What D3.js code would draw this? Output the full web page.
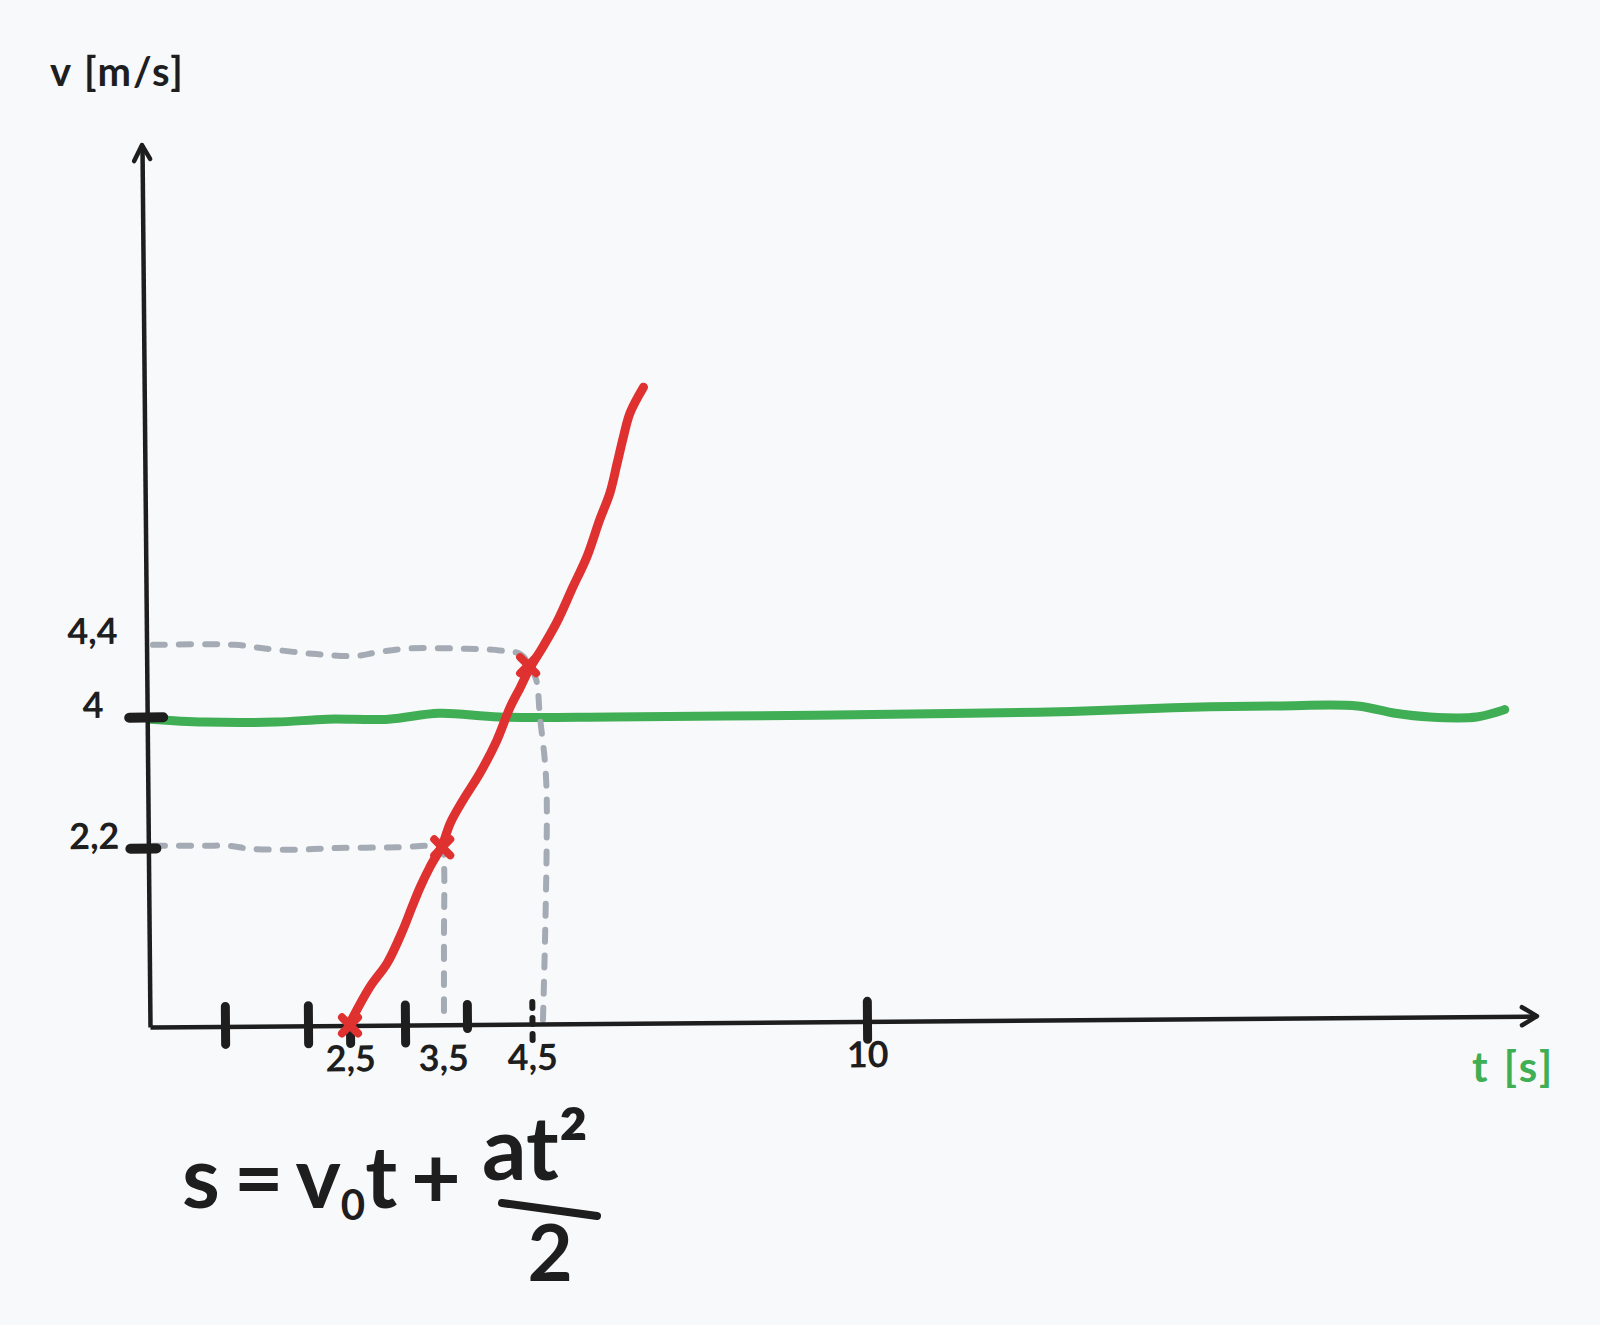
<!DOCTYPE html>
<html lang="en">
<head>
<meta charset="UTF-8">
<title>v(t) sketch</title>
<script src="https://d3js.org/d3.v7.min.js"></script>
<style>
  html, body { margin: 0; background: #f8f9fb; }
  text { font-family: Lato, "Noto Sans", sans-serif; font-weight: 700; fill: #1e1e1e; }
</style>
</head>
<body>
<div id="chart"></div>
<script>
// values: t in s, v in m/s
const greenT = [0, 0.72, 1.61, 2.23, 2.85, 3.45, 4.25, 5.81, 9.16, 11.67, 13.35, 15.02, 16.72, 18.05, 18.67, 19.24, 20.01, 20.47];
const greenV = [3.97, 3.93, 3.93, 3.97, 3.97, 4.02, 4.0, 4.0, 4.01, 4.02, 4.03, 4.05, 4.06, 4.06, 4.02, 4.0, 4.0, 4.04];

const redT = [2.5, 2.68, 2.84, 2.98, 3.09, 3.20, 3.33, 3.49, 3.65, 3.92, 4.10, 4.23, 4.33, 4.41, 4.48, 4.68, 4.91, 5.17, 5.40, 5.61, 5.78, 5.90, 6.00, 6.11, 6.33];
const redV = [0.05, 0.49, 0.79, 1.19, 1.47, 1.72, 1.97, 2.24, 2.54, 2.86, 3.23, 3.68, 4.05, 4.16, 4.26, 4.38, 4.68, 5.14, 5.54, 6.03, 6.39, 6.79, 7.13, 7.45, 7.79];

// crosses marked on the red curve
const crossT = [2.5, 3.49, 4.47];
const crossV = [0.02, 2.21, 4.28];

// dashed guide lines
const g44T = [0.04, 1.12, 1.48, 2.10, 2.56, 2.75, 3.04, 3.83, 4.25, 4.41, 4.48, 4.57, 4.63, 4.71, 4.74, 4.74, 4.71, 4.68];
const g44V = [4.39, 4.39, 4.37, 4.34, 4.33, 4.35, 4.37, 4.37, 4.36, 4.34, 4.28, 4.2, 4.0, 3.41, 2.96, 2.18, 0.95, 0.09];
const g22T = [0.04, 0.72, 1.06, 1.30, 1.86, 2.35, 2.94, 3.32, 3.49, 3.52, 3.52, 3.52];
const g22V = [2.23, 2.23, 2.23, 2.19, 2.18, 2.20, 2.21, 2.23, 2.21, 2.02, 1.07, 0.18];

// ticks
const xTickMarks = [1, 2, 2.5, 3, 4, 10];
const xTickDashed = [4.5];
const xTickLabels = [2.5, 3.5, 4.5, 10];
const yTickMarks = [2.2, 4];
const yTickLabels = [2.2, 4, 4.4];

const width = 1600, height = 1325;
const ink = "#1e1e1e", red = "#e03131", green = "#3fae54", grey = "#a5abb4";

const svg = d3.select("#chart").append("svg")
  .attr("width", width)
  .attr("height", height);

svg.append("rect").attr("width", width).attr("height", height).attr("fill", "#f8f9fb");

// the sketch is not to scale, so the scales are piecewise
const x = d3.scaleLinear()
  .domain([0, 1, 2, 2.5, 3, 3.5, 4, 4.5, 10, 21])
  .range([150, 225, 308, 350, 405, 443, 467, 532, 867, 1537]);
const y = d3.scaleLinear()
  .domain([0, 2.2, 4, 4.4, 11])
  .range([1027, 848, 717, 643, 145]);

const comma = d => String(d).replace(".", ",");
const line = d3.line()
  .x(d => x(d[0]))
  .y(d => y(d[1]))
  .curve(d3.curveCatmullRom.alpha(0.5));

// green line
svg.append("path")
  .datum(d3.zip(greenT, greenV))
  .attr("d", line)
  .attr("fill", "none")
  .attr("stroke", green)
  .attr("stroke-width", 9)
  .attr("stroke-linecap", "round")
  .attr("stroke-linejoin", "round");

// dashed guides
svg.selectAll(".guide")
  .data([d3.zip(g44T, g44V), d3.zip(g22T, g22V)])
  .join("path")
  .attr("class", "guide")
  .attr("d", line)
  .attr("fill", "none")
  .attr("stroke", grey)
  .attr("stroke-width", 6)
  .attr("stroke-dasharray", "12 14")
  .attr("stroke-linecap", "round");

// x axis
const xShift = `rotate(-0.45, ${x(0)}, ${y(0)}) translate(0, ${y(0)})`;
const xAxisG = svg.append("g").attr("transform", xShift);
xAxisG.call(d3.axisBottom(x).tickValues(xTickMarks).tickFormat("").tickSizeOuter(0));
xAxisG.select(".domain").attr("stroke", ink).attr("stroke-width", 4.5);
xAxisG.selectAll(".tick line")
  .attr("stroke", ink)
  .attr("stroke-width", 9)
  .attr("stroke-linecap", "round")
  .attr("y1", d => d === 2.5 ? 0 : -20)
  .attr("y2", d => d === 4 ? 4 : 18);

const xDash = svg.append("g")
  .attr("transform", xShift)
  .call(d3.axisBottom(x).tickValues(xTickDashed).tickFormat("").tickSizeOuter(0));
xDash.select(".domain").remove();
xDash.selectAll(".tick line")
  .attr("stroke", ink)
  .attr("stroke-width", 6)
  .attr("stroke-linecap", "round")
  .attr("stroke-dasharray", "6 10")
  .attr("y1", -22).attr("y2", 18);

const xLab = svg.append("g")
  .attr("transform", xShift)
  .call(d3.axisBottom(x).tickValues(xTickLabels).tickFormat(comma).tickSize(0).tickSizeOuter(0));
xLab.select(".domain").remove();
xLab.selectAll(".tick text")
  .attr("y", 46).attr("dy", 0)
  .attr("font-size", 36)
  .style("font-family", "Lato, sans-serif")
  .style("font-weight", 700)
  .attr("fill", ink);

const xEnd = x.range()[x.range().length - 1];
xAxisG.append("path")
  .attr("d", `M${xEnd - 15},-9 L${xEnd},0 L${xEnd - 15},9`)
  .attr("fill", "none")
  .attr("stroke", ink)
  .attr("stroke-width", 4.5)
  .attr("stroke-linecap", "round")
  .attr("stroke-linejoin", "round");

// y axis
const yShift = `rotate(-0.52, ${x(0)}, ${y(0)}) translate(${x(0)}, 0)`;
const yAxisG = svg.append("g").attr("transform", yShift);
yAxisG.call(d3.axisLeft(y).tickValues(yTickMarks).tickFormat("").tickSizeOuter(0));
yAxisG.select(".domain").attr("stroke", ink).attr("stroke-width", 4.5);
yAxisG.selectAll(".tick line")
  .attr("stroke", ink)
  .attr("stroke-width", 10)
  .attr("stroke-linecap", "round")
  .attr("x1", -18)
  .attr("x2", d => d === 4 ? 16 : 8);
yAxisG.append("path")
  .attr("d", `M-8,${y(11) + 16} L0,${y(11)} L8,${y(11) + 14}`)
  .attr("fill", "none")
  .attr("stroke", ink)
  .attr("stroke-width", 4.5)
  .attr("stroke-linecap", "round")
  .attr("stroke-linejoin", "round");

const yLab = svg.append("g")
  .attr("transform", yShift)
  .call(d3.axisLeft(y).tickValues(yTickLabels).tickFormat(comma).tickSize(0).tickSizeOuter(0));
yLab.select(".domain").remove();
yLab.selectAll(".tick text")
  .attr("x", -54).attr("dy", 0)
  .attr("text-anchor", "middle")
  .attr("font-size", 36)
  .style("font-family", "Lato, sans-serif")
  .style("font-weight", 700)
  .attr("fill", ink);

// red curve
svg.append("path")
  .datum(d3.zip(redT, redV))
  .attr("d", line)
  .attr("fill", "none")
  .attr("stroke", red)
  .attr("stroke-width", 9)
  .attr("stroke-linecap", "round")
  .attr("stroke-linejoin", "round");

svg.selectAll(".cross")
  .data(d3.zip(crossT, crossV))
  .join("path")
  .attr("class", "cross")
  .attr("transform", d => `translate(${x(d[0])},${y(d[1])})`)
  .attr("d", d3.symbol(d3.symbolX, 170))
  .attr("fill", "none")
  .attr("stroke", red)
  .attr("stroke-width", 8)
  .attr("stroke-linecap", "round");

// axis titles
svg.append("text")
  .attr("x", 50).attr("y", 86)
  .attr("font-size", 40)
  .attr("letter-spacing", 2)
  .text("v [m/s]");
svg.append("text")
  .attr("x", 1472).attr("y", 1082)
  .attr("font-size", 42)
  .attr("letter-spacing", 3)
  .style("fill", green)
  .text("t [s]");

// formula
const f = svg.append("text")
  .attr("x", 182).attr("y", 1208)
  .attr("font-size", 86)
  .attr("word-spacing", -7);
f.append("tspan").text("s = v");
f.append("tspan").attr("font-size", 42).attr("dy", 12).text("0");
f.append("tspan").attr("dy", -12).text("t +");

svg.append("text")
  .attr("x", 535).attr("y", 1180)
  .attr("text-anchor", "middle")
  .attr("font-size", 88)
  .text("at²");
svg.append("path")
  .attr("d", "M502,1203 L597,1216")
  .attr("stroke", ink)
  .attr("stroke-width", 8)
  .attr("stroke-linecap", "round");
svg.append("text")
  .attr("x", 550).attr("y", 1281)
  .attr("text-anchor", "middle")
  .attr("font-size", 78)
  .text("2");
</script>
</body>
</html>
